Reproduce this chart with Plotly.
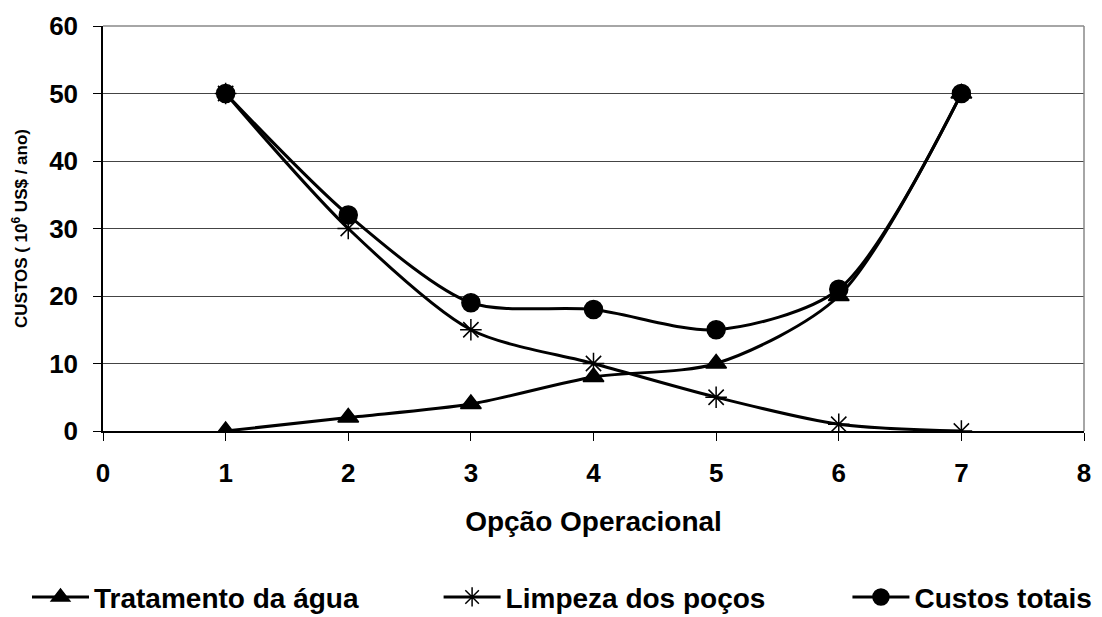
import plotly.graph_objects as go

# Operational options and annual cost series
opcoes = [1, 2, 3, 4, 5, 6, 7]
tratamento_agua = [0, 2, 4, 8, 10, 20, 50]
limpeza_pocos = [50, 30, 15, 10, 5, 1, 0]
custos_totais = [50, 32, 19, 18, 15, 21, 50]

x_ticks = [0, 1, 2, 3, 4, 5, 6, 7, 8]
y_ticks = [0, 10, 20, 30, 40, 50, 60]

FONT = "Liberation Sans, Arial, sans-serif"
tick_font = dict(family=FONT, size=26, color="black")
big = dict(family=FONT, size=28, color="black")

fig = go.Figure()

series = [
    ("Tratamento da água", tratamento_agua, "triangle-up", 18, "legend"),
    ("Limpeza dos poços", limpeza_pocos, "asterisk-open", 18, "legend2"),
    ("Custos totais", custos_totais, "circle", 18, "legend3"),
]
for name, vals, sym, size, leg in series:
    fig.add_trace(go.Scatter(
        x=opcoes, y=vals, name=f"<b>{name}</b>", mode="lines+markers",
        line=dict(color="black", width=3, shape="spline", smoothing=0.8),
        marker=dict(symbol=sym, size=size, color="black",
                    line=dict(color="black", width=1.5)),
        legend=leg, showlegend=True,
    ))

fig.update_xaxes(
    range=[0, 8], tickvals=x_ticks, ticktext=[f"<b>{v}</b>" for v in x_ticks],
    ticks="outside", ticklen=8, tickcolor="black", ticklabelstandoff=10,
    showline=True, linecolor="black", linewidth=1.5,
    showgrid=False, zeroline=False, tickfont=tick_font,
    title=dict(text="<b>Opção Operacional</b>", font=big, standoff=24),
)
fig.update_yaxes(
    range=[0, 60], tickvals=y_ticks, ticktext=[f"<b>{v}</b>" for v in y_ticks],
    ticks="outside", ticklen=8, tickcolor="black", ticklabelstandoff=10,
    showline=True, linecolor="black", linewidth=1.5,
    showgrid=True, gridcolor="#444444", gridwidth=1, zeroline=False, tickfont=tick_font,
    title=dict(text="<b>CUSTOS ( 10<sup>6</sup> US$ / ano)</b>",
               font=dict(family=FONT, size=17, color="black"),
               standoff=17),
)

leg_common = dict(orientation="h", xref="container", yref="container",
                  yanchor="middle", itemwidth=57, bgcolor="rgba(0,0,0,0)",
                  font=big, tracegroupgap=0, visible=True)
fig.update_layout(
    width=1102, height=617,
    margin=dict(l=103, r=11, t=25, b=186),
    plot_bgcolor="white", paper_bgcolor="white",
    showlegend=True,
    legend=dict(x=0.0245, y=0.032, **leg_common),
    legend2=dict(x=0.398, y=0.032, **leg_common),
    legend3=dict(x=0.769, y=0.032, **leg_common),
    shapes=[
        dict(type="line", xref="paper", yref="paper", x0=0, x1=1, y0=1, y1=1,
             line=dict(color="#888888", width=1.5)),
        dict(type="line", xref="paper", yref="paper", x0=1, x1=1, y0=0, y1=1,
             line=dict(color="#888888", width=1.5)),
    ],
)

fig.write_html("out.html")
